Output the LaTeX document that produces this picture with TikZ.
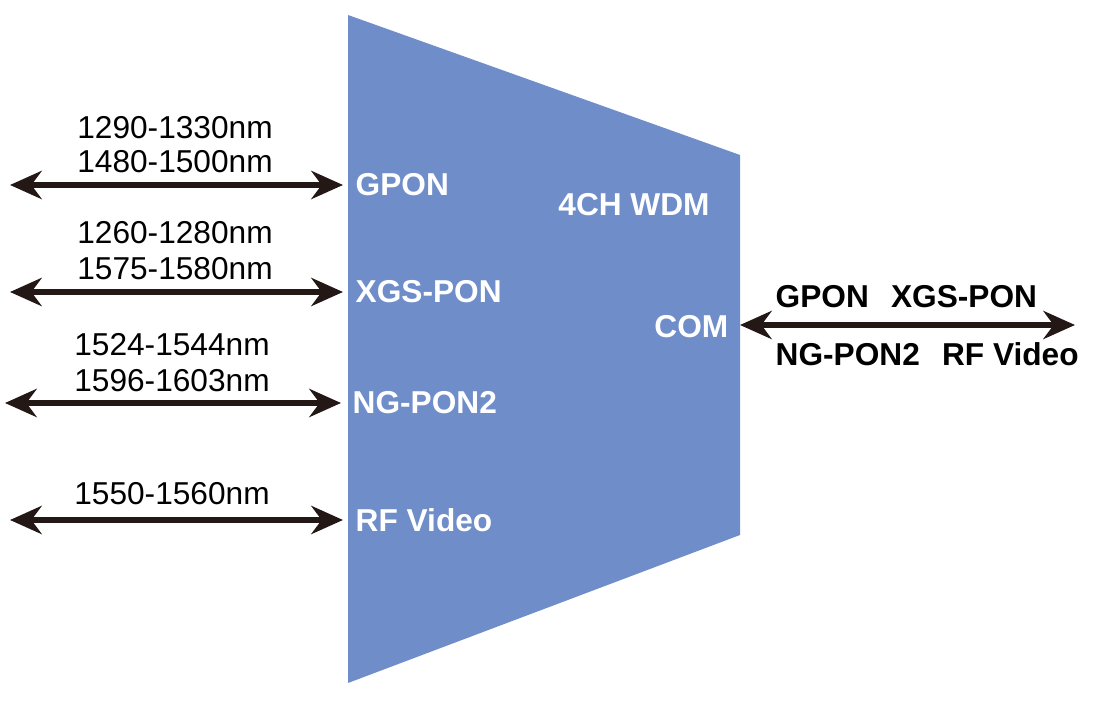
\documentclass[tikz,border=0pt]{standalone}
\usepackage{fontspec}
\setmainfont{Liberation Sans}
\usetikzlibrary{arrows.meta}
\definecolor{wdmblue}{HTML}{6F8DC8}
\definecolor{arrowdark}{HTML}{231815}
\begin{document}
\begin{tikzpicture}[x=0.01cm,y=-0.01cm,
  band/.style={font=\fontsize{9}{11}\selectfont, inner sep=0pt},
  port/.style={font=\fontsize{9}{11}\selectfont\bfseries, text=white, inner sep=0pt, anchor=west},
  comlbl/.style={font=\fontsize{9}{11}\selectfont\bfseries, inner sep=0pt, anchor=west},
  link/.style={arrowdark, line width=1.6pt, {Stealth[length=9pt,width=8pt]}-{Stealth[length=9pt,width=8pt]}}]
  \useasboundingbox (0,0) rectangle (1100,704);

  \fill[wdmblue] (348,15) -- (740,155) -- (740,535) -- (348,683) -- cycle;

  % port names
  \node[port] (gpon) at (355,185) {GPON};
  \node[port] (xgs) at (355,292) {XGS-PON};
  \node[port] (ng) at (352,403) {NG-PON2};
  \node[port] (rf) at (355,520) {RF Video};
  \node[font=\fontsize{9}{11}\selectfont\bfseries, text=white, inner sep=0pt] (wdm) at (634,205) {4CH WDM};
  \node[font=\fontsize{9}{11}\selectfont\bfseries, text=white, inner sep=0pt, anchor=east] (com) at (729,327) {COM};

  % wavelength bands
  \node[band] (b1) at (175,128) {1290-1330nm};
  \node[band] (b2) at (175,162) {1480-1500nm};
  \node[band] (b3) at (175,233) {1260-1280nm};
  \node[band] (b4) at (175,269) {1575-1580nm};
  \node[band] (b5) at (172,345) {1524-1544nm};
  \node[band] (b6) at (172,381) {1596-1603nm};
  \node[band] (b7) at (172,494) {1550-1560nm};

  % free ends
  \coordinate (g0) at (10,185);  \coordinate (g1) at (343,185);
  \coordinate (x0) at (10,292);  \coordinate (x1) at (343,292);
  \coordinate (n0) at (5,403);   \coordinate (n1) at (341,403);
  \coordinate (r0) at (10,520);  \coordinate (r1) at (343,520);
  \coordinate (c0) at (740,325); \coordinate (c1) at (1075,325);

  \draw[link] (g0) -- (g1);
  \draw[link] (x0) -- (x1);
  \draw[link] (n0) -- (n1);
  \draw[link] (r0) -- (r1);
  \draw[link] (c0) -- (c1);

  \node[comlbl] (o1) at (775,297) {GPON\hspace{0.7em}XGS-PON};
  \node[comlbl] (o2) at (775,354) {NG-PON2\hspace{0.7em}RF Video};
\end{tikzpicture}
\end{document}
